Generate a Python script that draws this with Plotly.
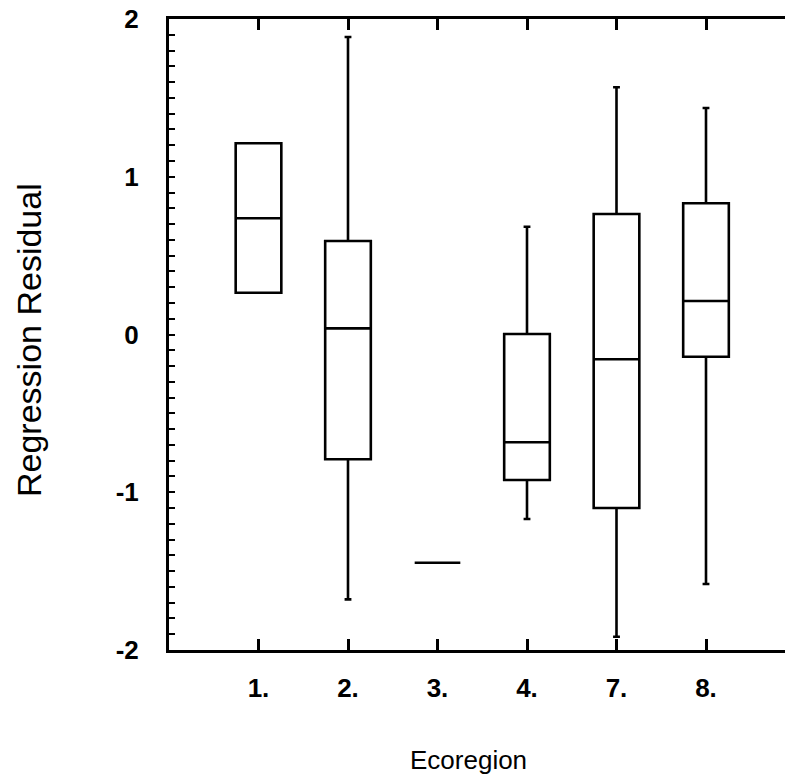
import plotly.graph_objects as go

# ---- data ----
categories = ["1.", "2.", "3.", "4.", "7.", "8."]
positions = [1, 2, 3, 4, 5, 6]
q1 = [0.265, -0.791, -1.447, -0.922, -1.100, -0.141]
median = [0.737, 0.039, -1.447, -0.683, -0.157, 0.212]
q3 = [1.212, 0.593, -1.447, 0.003, 0.764, 0.832]
lower = [0.265, -1.679, -1.447, -1.170, -1.916, -1.582]
upper = [1.212, 1.886, -1.447, 0.683, 1.567, 1.436]
y_tick_vals = [-2, -1, 0, 1, 2]
y_tick_text = ["-2", "-1", "0", "1", "2"]

FONT = "Liberation Sans, Arial, sans-serif"

fig = go.Figure()
fig.add_trace(go.Box(
    x=positions, q1=q1, median=median, q3=q3,
    lowerfence=lower, upperfence=upper,
    width=0.51, whiskerwidth=0.15, boxpoints=False,
    line=dict(color="black", width=2.6),
    fillcolor="rgba(0,0,0,0)",
    showlegend=False, hoverinfo="skip",
))

W, H = 785, 780
L, R, T, B = 169, 0, 19, 130
pw, ph = W - L - R, H - T - B

fig.update_layout(
    width=W, height=H,
    margin=dict(l=L, r=R, t=T, b=B, pad=0),
    paper_bgcolor="white", plot_bgcolor="white",
    font=dict(family=FONT, color="black"),
    xaxis=dict(
        range=[0, pw / 89.5], tickvals=positions, ticktext=categories,
        ticks="inside", ticklen=11, tickwidth=2.5, tickcolor="black",
        showline=True, linewidth=3, linecolor="black", mirror="ticks",
        showgrid=False, zeroline=False,
        tickfont=dict(size=26, family=FONT, color="black", weight="bold"),
        ticklabelstandoff=13,
    ),
    yaxis=dict(
        range=[-2, 2], tickvals=y_tick_vals, ticktext=y_tick_text,
        ticks="inside", ticklen=6, tickwidth=2.2, tickcolor="black",
        minor=dict(tick0=0, dtick=0.1, ticks="inside", ticklen=6,
                   tickwidth=1.8, tickcolor="black", showgrid=False),
        showline=True, linewidth=3, linecolor="black", mirror=False,
        showgrid=False, zeroline=False,
        tickfont=dict(size=26, family=FONT, color="black", weight="bold"),
        ticklabelstandoff=22,
    ),
    annotations=[
        dict(text="Regression Residual", xref="paper", yref="paper",
             x=(29 - L) / pw, y=(650 - 340) / ph, textangle=-90,
             showarrow=False, xanchor="center", yanchor="middle",
             font=dict(size=34, family=FONT, color="black")),
        dict(text="Ecoregion", xref="paper", yref="paper",
             x=(468 - L) / pw, y=(650 - 760) / ph,
             showarrow=False, xanchor="center", yanchor="middle",
             font=dict(size=26, family=FONT, color="black")),
    ],
)

fig.write_html("out.html")
